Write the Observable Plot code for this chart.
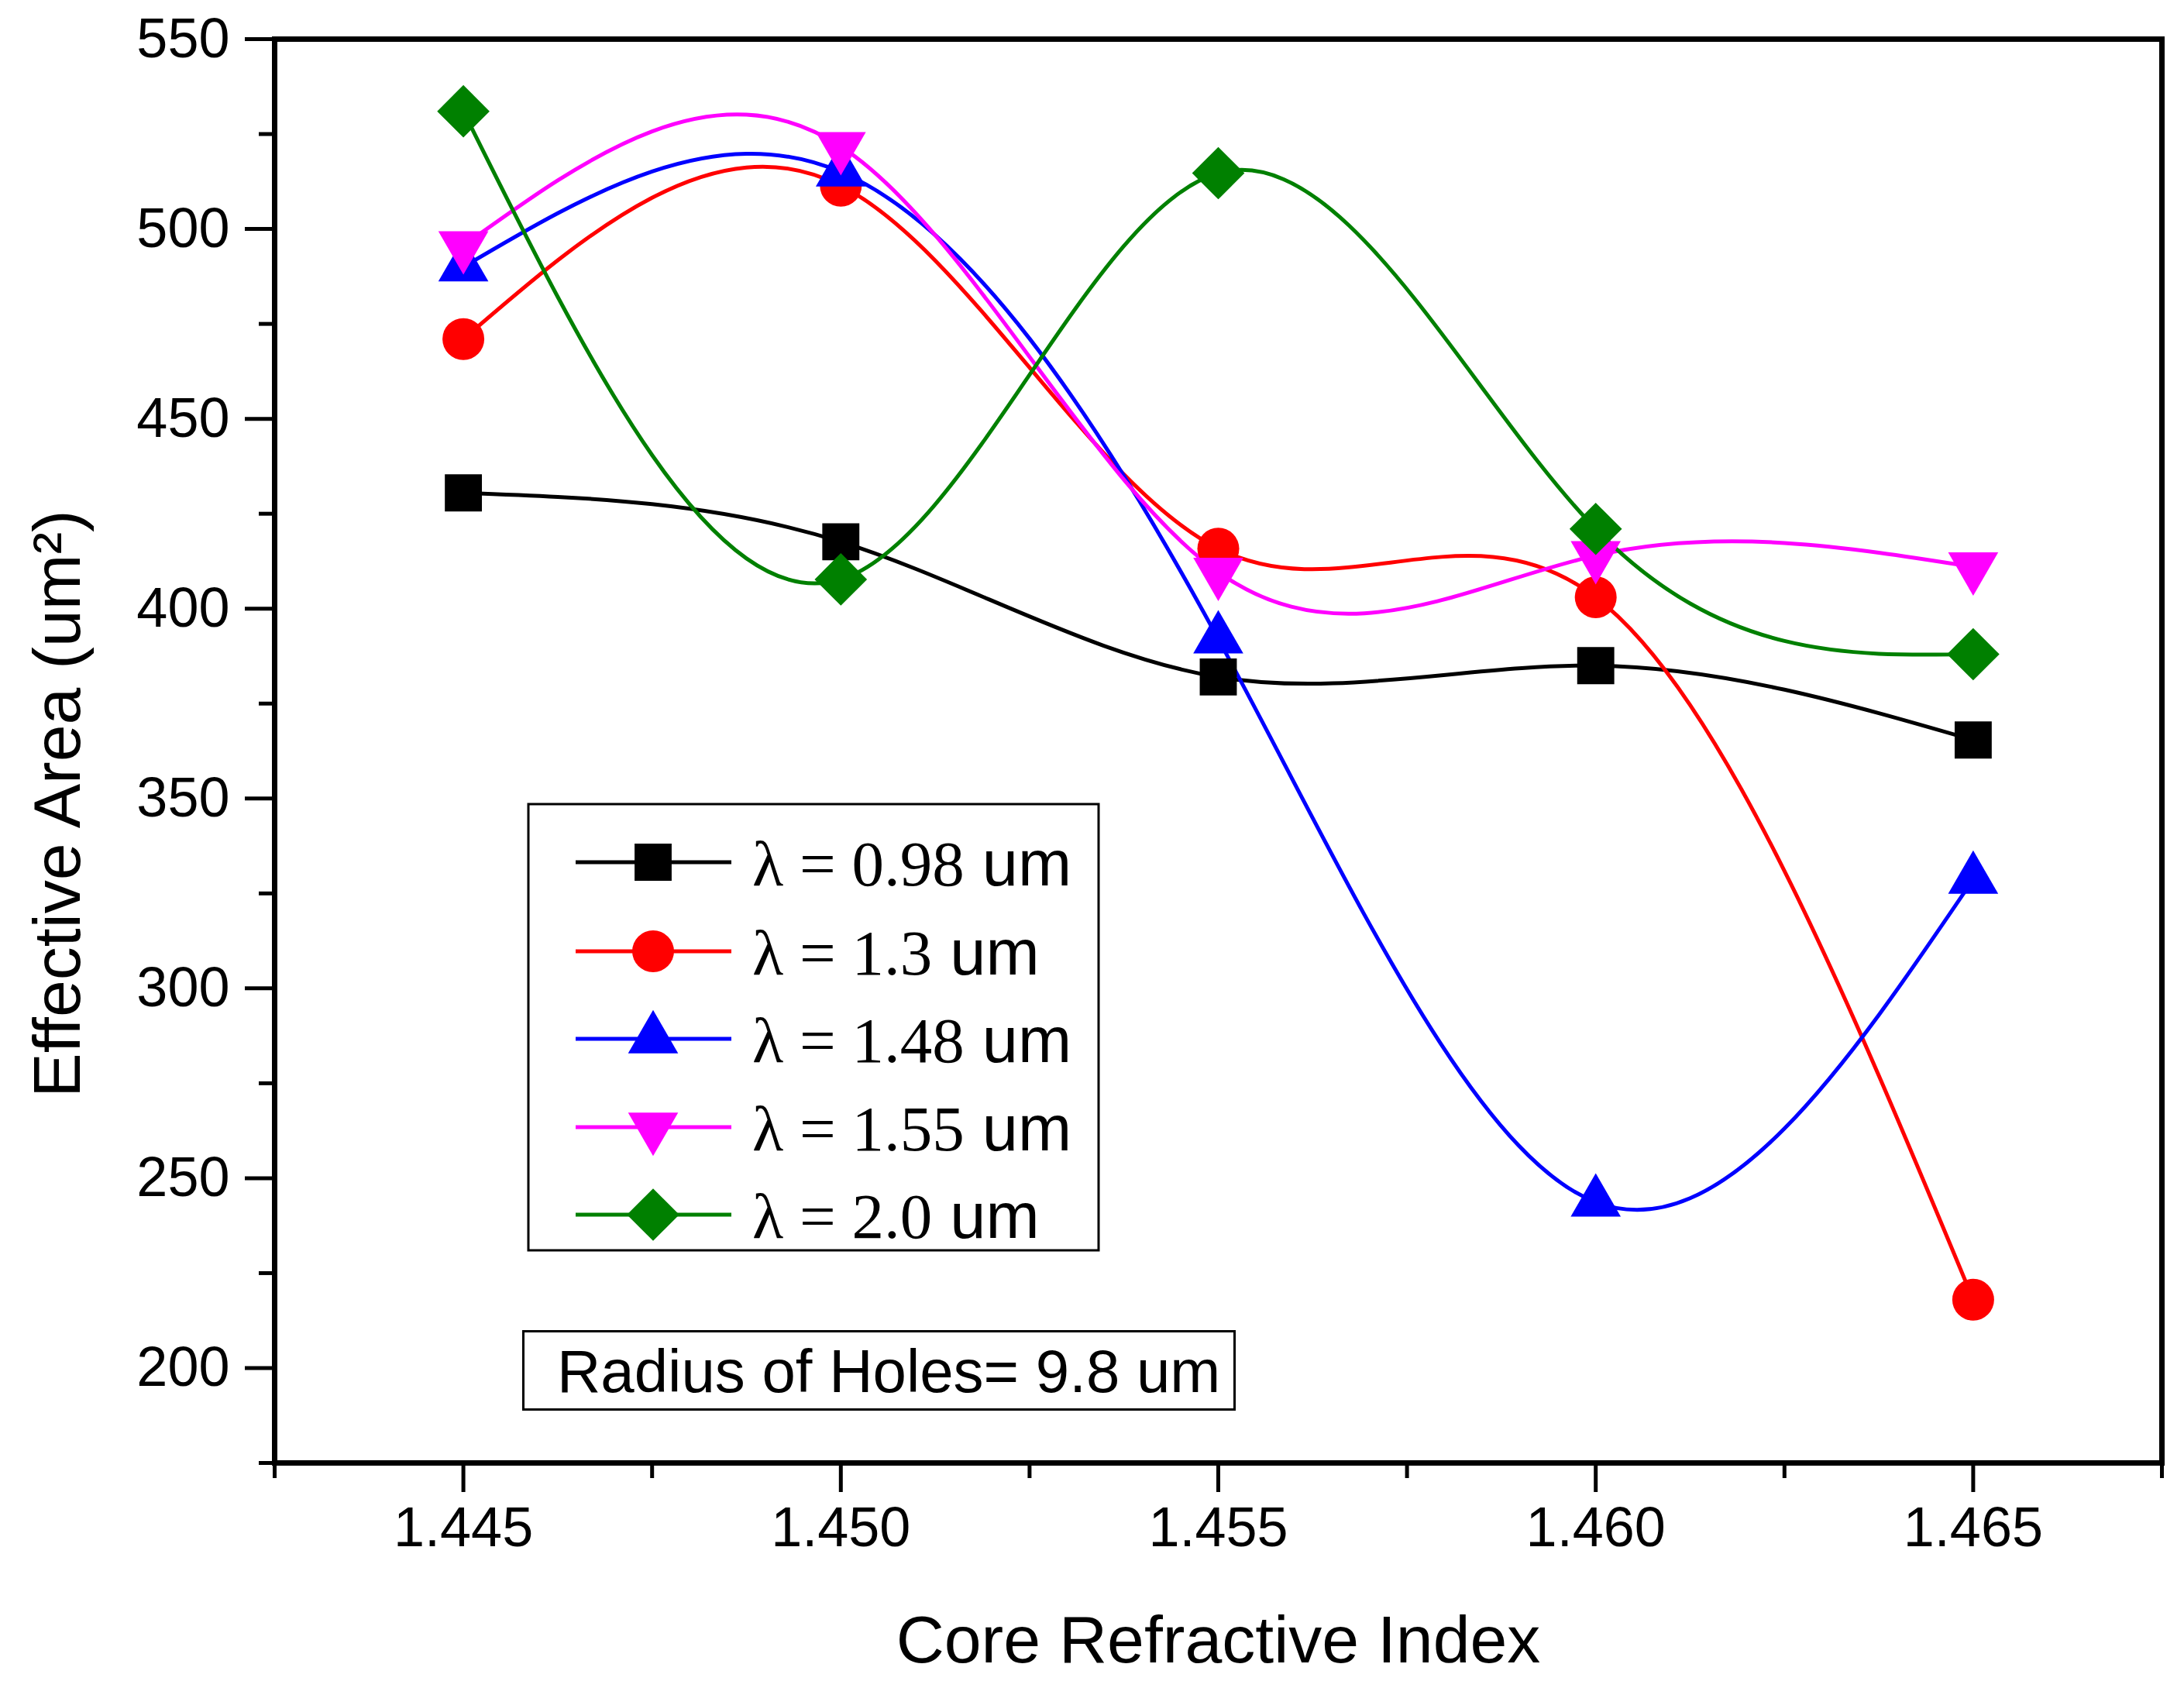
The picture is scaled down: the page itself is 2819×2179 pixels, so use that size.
<!DOCTYPE html>
<html><head><meta charset="utf-8">
<script src="https://cdn.jsdelivr.net/npm/d3@7"></script>
<script src="https://cdn.jsdelivr.net/npm/@observablehq/plot@0.6"></script>
<style>
body{margin:0;background:#fff;}
#wrap{position:relative;width:2819px;height:2179px;overflow:hidden;}
#legend{position:absolute;left:0;top:0;}
#note{position:absolute;left:674px;top:1717px;width:873px;height:98px;border:3px solid #000;background:#fff;
 font-family:"Liberation Sans",Arial,sans-serif;font-size:78px;line-height:100px;padding-left:42px;box-sizing:content-box;white-space:nowrap;}
</style></head><body><div id="wrap"></div>
<script>
const coreIndex = [1.445, 1.450, 1.455, 1.460, 1.465];
const area098 = [430.5, 417.6, 382.0, 385.0, 365.4];
const area130 = [471.0, 511.4, 415.8, 403.0, 218.0];
const area148 = [490.0, 515.0, 392.0, 243.7, 328.7];
const area155 = [495.6, 521.7, 409.6, 414.0, 411.0];
const area200 = [531.0, 407.7, 514.7, 421.0, 388.0];
const seriesValues = [area098, area130, area148, area155, area200];
const seriesLabels = ["λ = 0.98", "λ = 1.3", "λ = 1.48", "λ = 1.55", "λ = 2.0"];
const seriesUnit = " um";
const seriesColors = ["#000000", "#ff0000", "#0000ff", "#ff00ff", "#008000"];
const yTicks = [200, 250, 300, 350, 400, 450, 500, 550];
const yMinor = [175, 225, 275, 325, 375, 425, 475, 525];
const xTicks = [1.445, 1.450, 1.455, 1.460, 1.465];
const xMinor = [1.4425, 1.4475, 1.4525, 1.4575, 1.4625, 1.4675];
const xTitle = "Core Refractive Index";
const yTitle = "Effective Area (um²)";
const noteText = "Radius of Holes= 9.8 um";

const sqrt3 = Math.sqrt(3);
const triDown = {draw(ctx, size){const y = -Math.sqrt(size/(sqrt3*3)); ctx.moveTo(0,-2*y); ctx.lineTo(-sqrt3*y, y); ctx.lineTo(sqrt3*y, y); ctx.closePath();}};
const diamondSym = {draw(ctx, size){const d = Math.sqrt(size)/2*Math.SQRT2; ctx.moveTo(0,-d); ctx.lineTo(d,0); ctx.lineTo(0,d); ctx.lineTo(-d,0); ctx.closePath();}};
const symbols = [d3.symbolSquare, d3.symbolCircle, d3.symbolTriangle, triDown, diamondSym];
const radii = [27, 27, 24, 24, 27];

const rows = seriesValues.map(vals => coreIndex.map((x, i) => ({x, y: vals[i]})));

const marks = [
  Plot.axisY({ticks: yMinor, tickSize: 20, tickFormat: () => "", strokeWidth: 5, label: null}),
  Plot.axisY({ticks: yTicks, tickSize: 38, tickPadding: 20, fontSize: 72, strokeWidth: 5, label: null, tickFormat: d => String(d)}),
  Plot.axisX({ticks: xMinor, tickSize: 20, tickFormat: () => "", strokeWidth: 5, label: null}),
  Plot.axisX({ticks: xTicks, tickSize: 38, tickPadding: 18, fontSize: 72, strokeWidth: 5, label: null, tickFormat: d3.format(".3f")})
];
rows.forEach((r, k) => {
  marks.push(Plot.line(r, {x: "x", y: "y", curve: "natural", stroke: seriesColors[k], strokeWidth: 5}));
});
rows.forEach((r, k) => {
  marks.push(Plot.dot(r, {x: "x", y: "y", symbol: symbols[k], r: radii[k], fill: seriesColors[k], stroke: "none"}));
});
marks.push(Plot.frame({stroke: "black", strokeWidth: 7}));
marks.push(Plot.text([yTitle], {text: d => d, frameAnchor: "left", textAnchor: "middle", lineAnchor: "middle", dx: -279, dy: 68, rotate: -90, fontSize: 86, fill: "black"}));
marks.push(Plot.text([xTitle], {text: d => d, frameAnchor: "bottom", textAnchor: "middle", lineAnchor: "middle", dy: 230, fontSize: 86, fill: "black"}));

const chart = Plot.plot({
  width: 2819, height: 2179,
  marginLeft: 354, marginRight: 29, marginTop: 50, marginBottom: 291,
  x: {domain: [1.4425, 1.4675], label: null},
  y: {domain: [175, 550], label: null},
  style: {fontFamily: "'Liberation Sans', Arial, sans-serif", background: "white", color: "black"},
  marks
});
const wrap = document.getElementById("wrap");
wrap.appendChild(chart);

// legend overlay
const lsvg = d3.create("svg").attr("id", "legend").attr("width", 2819).attr("height", 2179);
lsvg.append("rect").attr("x", 682).attr("y", 1038).attr("width", 736).attr("height", 576)
  .attr("fill", "white").attr("stroke", "black").attr("stroke-width", 3);
const rowY = [1113, 1228, 1341, 1455, 1568];
seriesLabels.forEach((lab, k) => {
  const g = lsvg.append("g").attr("transform", `translate(0,${rowY[k]})`);
  g.append("line").attr("x1", 743).attr("x2", 944).attr("y1", 0).attr("y2", 0)
    .attr("stroke", seriesColors[k]).attr("stroke-width", 5);
  g.append("path").attr("transform", "translate(843,0)")
    .attr("d", d3.symbol(symbols[k], Math.PI * radii[k] * radii[k])())
    .attr("fill", seriesColors[k]);
  const t = g.append("text").attr("x", 971).attr("y", 0).attr("dy", "0.36em").attr("font-size", 83);
  t.append("tspan").attr("font-family", "'Liberation Serif', 'Times New Roman', serif").text(lab);
  t.append("tspan").attr("font-family", "'Liberation Sans', Arial, sans-serif").text(seriesUnit);
});
wrap.appendChild(lsvg.node());

const note = document.createElement("div");
note.id = "note";
note.textContent = noteText;
wrap.appendChild(note);
</script>
</body></html>
